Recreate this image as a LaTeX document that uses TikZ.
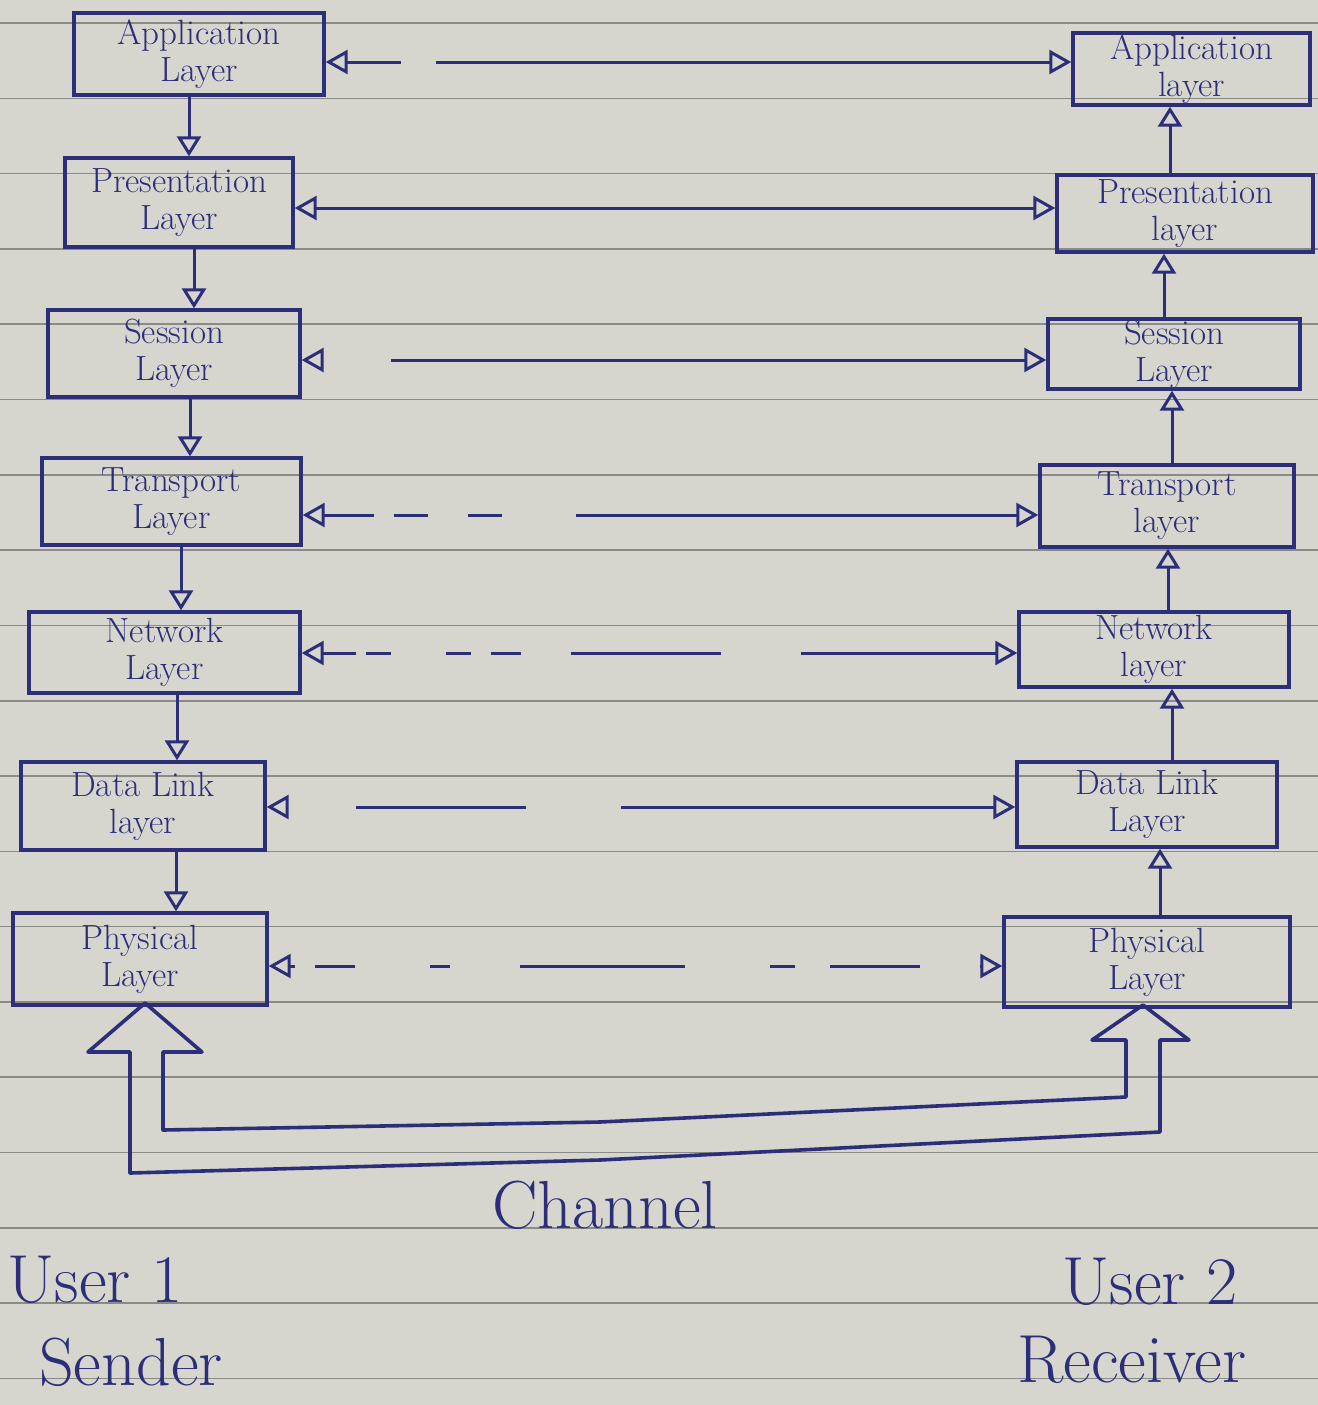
\documentclass[tikz,border=0pt]{standalone}
\usetikzlibrary{arrows.meta}
\definecolor{paper}{HTML}{D6D5CE}
\definecolor{rulecol}{HTML}{8A8A86}
\definecolor{ink}{HTML}{2C2E7A}
\begin{document}
\begin{tikzpicture}[x=0.5pt,y=-0.5pt,
  box/.style={draw=ink, text=ink, line width=1.7pt, align=center, inner sep=0pt,
    font=\fontsize{17.5}{18.5}\selectfont},
  link/.style={draw=ink, line width=1.5pt,
    {Triangle[open,length=11pt,width=12pt,line width=1.5pt]}-{Triangle[open,length=11pt,width=12pt,line width=1.5pt]}},
  vlink/.style={draw=ink, line width=1.5pt,
    -{Triangle[open,length=10pt,width=12pt,line width=1.5pt]}},
  lbl/.style={text=ink, font=\fontsize{34}{34}\selectfont},
  pipe/.style={draw=ink, line width=1.8pt, line join=round}]
% paper
\fill[paper] (0,0) rectangle (1318,1405);
\useasboundingbox (0,0) rectangle (1318,1405);
\foreach \k in {0,...,18} {
  \draw[rulecol, line width=0.8pt] (0,{23+75.3*\k}) -- (1318,{23+75.3*\k});
}
% left stack (sender)
\node[box, minimum width=125pt, minimum height=41pt]   (L1) at (199,54)    {Application\\Layer};
\node[box, minimum width=114pt, minimum height=44.5pt] (L2) at (179,202.5) {Presentation\\Layer};
\node[box, minimum width=126pt, minimum height=43.5pt] (L3) at (174,353.5) {Session\\Layer};
\node[box, minimum width=129.5pt, minimum height=43.5pt] (L4) at (171.5,501.5) {Transport\\Layer};
\node[box, minimum width=135.5pt, minimum height=40.5pt] (L5) at (164.5,652.5) {Network\\Layer};
\node[box, minimum width=122pt, minimum height=44pt]   (L6) at (143,806)   {Data Link\\layer};
\node[box, minimum width=127pt, minimum height=46pt]   (L7) at (140,959)   {Physical\\Layer};
% right stack (receiver)
\node[box, minimum width=118.5pt, minimum height=36pt] (R1) at (1191.5,69) {Application\\layer};
\node[box, minimum width=128pt, minimum height=38.5pt] (R2) at (1185,213.5) {Presentation\\layer};
\node[box, minimum width=126pt, minimum height=35pt]   (R3) at (1174,354)   {Session\\Layer};
\node[box, minimum width=127pt, minimum height=41pt]   (R4) at (1167,506)   {Transport\\layer};
\node[box, minimum width=135pt, minimum height=37.5pt] (R5) at (1154,649.5) {Network\\layer};
\node[box, minimum width=130pt, minimum height=42.5pt] (R6) at (1147,804.5) {Data Link\\Layer};
\node[box, minimum width=143pt, minimum height=45pt]   (R7) at (1147,962)   {Physical\\Layer};
% peer-to-peer links
\draw[link, dash pattern=on 27pt off 17.5pt on 400pt] (L1.east |- 0,62) -- (R1.west |- 0,62);
\draw[link] (L2.east |- 0,208) -- (R2.west |- 0,208);
\draw[link, dash pattern=on 0pt off 34pt on 400pt] (L3.east |- 0,360) -- (R3.west |- 0,360);
\draw[link, dash pattern=on 25pt off 10pt on 17pt off 20pt on 17pt off 37pt on 400pt] (L4.east |- 0,515) -- (R4.west |- 0,515);
\draw[link, dash pattern=on 16.5pt off 5pt on 12.5pt off 27.5pt on 12.5pt off 10pt on 15pt off 25pt on 75pt off 40pt on 300pt] (L5.east |- 0,653) -- (R5.west |- 0,653);
\draw[link, dash pattern=on 0pt off 34pt on 85pt off 47.5pt on 300pt] (L6.east |- 0,807) -- (R6.west |- 0,807);
\draw[link, dash pattern=on 2.5pt off 10pt on 20pt off 37.5pt on 10pt off 35pt on 82.5pt off 42.5pt on 12.5pt off 17.5pt on 45pt off 30pt] (L7.east |- 0,966) -- (R7.west |- 0,966);
% sender: downward
\draw[vlink] (L1.south -| 189,0) -- (L2.north -| 189,0);
\draw[vlink] (L2.south -| 194,0) -- (L3.north -| 194,0);
\draw[vlink] (L3.south -| 190,0) -- (L4.north -| 190,0);
\draw[vlink] (L4.south -| 181,0) -- (L5.north -| 181,0);
\draw[vlink] (L5.south -| 177,0) -- (L6.north -| 177,0);
\draw[vlink] (L6.south -| 176,0) -- (L7.north -| 176,0);
% receiver: upward
\draw[vlink] (R7.north -| 1160,0) -- (R6.south -| 1160,0);
\draw[vlink] (R6.north -| 1172,0) -- (R5.south -| 1172,0);
\draw[vlink] (R5.north -| 1168,0) -- (R4.south -| 1168,0);
\draw[vlink] (R4.north -| 1172,0) -- (R3.south -| 1172,0);
\draw[vlink] (R3.north -| 1164,0) -- (R2.south -| 1164,0);
\draw[vlink] (R2.north -| 1170,0) -- (R1.south -| 1170,0);
% channel: hollow U-shaped pipe with arrowheads at both ends
\draw[pipe] (130,1173) -- (130,1052) -- (88,1052) -- (145,1003) -- (202,1052)
  -- (163,1052) -- (163,1130) -- (600,1122) -- (1126,1097) -- (1126,1040)
  -- (1092,1040) -- (1143,1005) -- (1189,1040) -- (1160,1040) -- (1160,1132)
  -- (600,1160) -- cycle;
% labels
\node[lbl] (chan) at (605,1205) {Channel};
\node[lbl] (u1) at (95,1280) {User 1};
\node[lbl] (snd) at (131,1362) {Sender};
\node[lbl] (u2) at (1150,1282) {User 2};
\node[lbl] (rcv) at (1132,1360) {Receiver};
\end{tikzpicture}
\end{document}
